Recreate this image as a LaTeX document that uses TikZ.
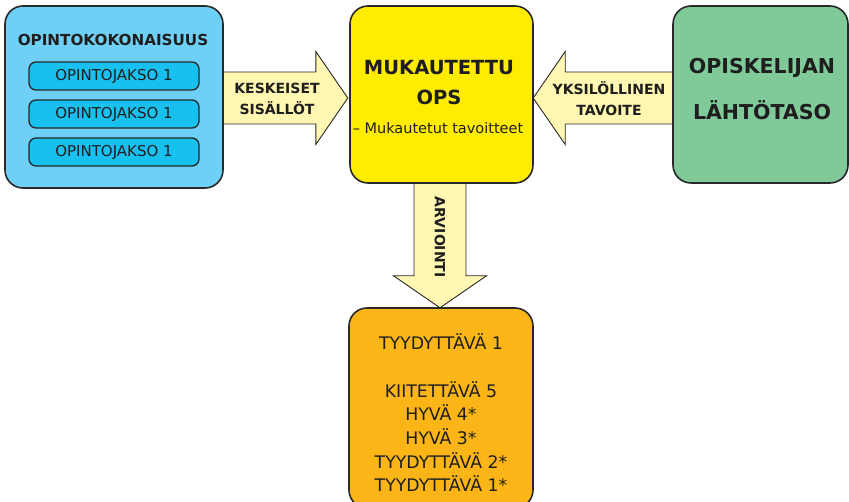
\documentclass[tikz,border=0pt]{standalone}
\usepackage{fontspec}
\setmainfont{DejaVu Sans}
\usetikzlibrary{calc,backgrounds}

\begin{document}
\begin{tikzpicture}[x=1pt, y=-1pt,
    box/.style={draw=edgecolor, line width=1.6pt, rounded corners=18pt, inner sep=0pt},
    subbox/.style={draw=edgecolor, line width=1.3pt, rounded corners=7pt, fill=subblue,
        minimum width=170pt, minimum height=28pt, inner sep=0pt, text=textcolor,
        font=\fontsize{15}{18}\selectfont},
    arrowfill/.style={draw=edgecolor, line width=0.9pt, fill=arrowyellow},
    arrowlabel/.style={font=\bfseries\fontsize{14}{20.5}\selectfont, align=center, text=textcolor},
    boxtitle/.style={font=\bfseries\fontsize{#1}{#1}\selectfont, text=textcolor, inner sep=0pt},
    boxtext/.style={font=\fontsize{#1}{23.7}\selectfont, align=center, text=textcolor, inner sep=0pt}
]

% Define colors
\definecolor{edgecolor}{RGB}{40,40,40}
\definecolor{textcolor}{RGB}{30,30,30}
\definecolor{unitblue}{RGB}{110,208,246}
\definecolor{subblue}{RGB}{24,192,240}
\definecolor{opsyellow}{RGB}{255,236,0}
\definecolor{startgreen}{RGB}{128,202,154}
\definecolor{gradeorange}{RGB}{251,181,22}
\definecolor{arrowyellow}{RGB}{255,247,178}

% Helper for block arrows
\newcommand{\blockarrow}[3]{%
    % #1 = start point, #2 = direction angle, #3 = length
    \begin{scope}[on background layer, shift={(#1)}, rotate=#2]
        \draw[arrowfill] (-2,-26) -- (#3-32,-26) -- (#3-32,-46.5) -- (#3,0)
            -- (#3-32,46.5) -- (#3-32,26) -- (-2,26) -- cycle;
    \end{scope}
}

\clip (0,0) rectangle (849,502);

% Boxes
\node[box, fill=unitblue, minimum width=218pt, minimum height=182pt] (unit) at (114,97) {};
\node[box, fill=opsyellow, minimum width=183pt, minimum height=177pt] (ops) at (441.5,94.5) {};
\node[box, fill=startgreen, minimum width=175pt, minimum height=177pt] (start) at (760.5,94.5) {};
\node[box, fill=gradeorange, minimum width=184pt, minimum height=200pt] (grades) at (441,408) {};

% Study unit contents
\node[boxtitle=15.2] (unittitle) at (113,40) {OPINTOKOKONAISUUS};
\foreach \y/\i in {76/1, 114/2, 152/3} {
    \node[subbox] (course\i) at (114,\y) {OPINTOJAKSO 1};
}

% Adapted curriculum
\node[boxtitle=19.5] (opstitle) at (439,68) {MUKAUTETTU};
\node[boxtitle=19.5] (opsname) at (439,97) {OPS};
\node[boxtext=14.5] (opsgoals) at (438,128) {– Mukautetut tavoitteet};

% Starting level
\node[boxtitle=20.5] (startline1) at (762,68) {OPISKELIJAN};
\node[boxtitle=20.5] (startline2) at (762,110) {LÄHTÖTASO};

% Grades
\node[boxtext=17.3] (gradelist) at (441,413)
    {TYYDYTTÄVÄ 1\\[23.7pt]KIITETTÄVÄ 5\\HYVÄ 4*\\HYVÄ 3*\\TYYDYTTÄVÄ 2*\\TYYDYTTÄVÄ 1*};

% Arrows between boxes
\blockarrow{$(unit.east)+(0,1)$}{0}{124}
\blockarrow{$(start.west)+(0,3.5)$}{180}{139}
\blockarrow{$(ops.south)+(-1.5,0)$}{-90}{124}

\node[arrowlabel] (contents) at (277,99) {KESKEISET\\SISÄLLÖT};
\node[arrowlabel] (goal) at (609,98.5) {YKSILÖLLINEN\\TAVOITE};
\node[arrowlabel, rotate=-90] (assess) at (440,237) {ARVIOINTI};

\end{tikzpicture}
\end{document}
